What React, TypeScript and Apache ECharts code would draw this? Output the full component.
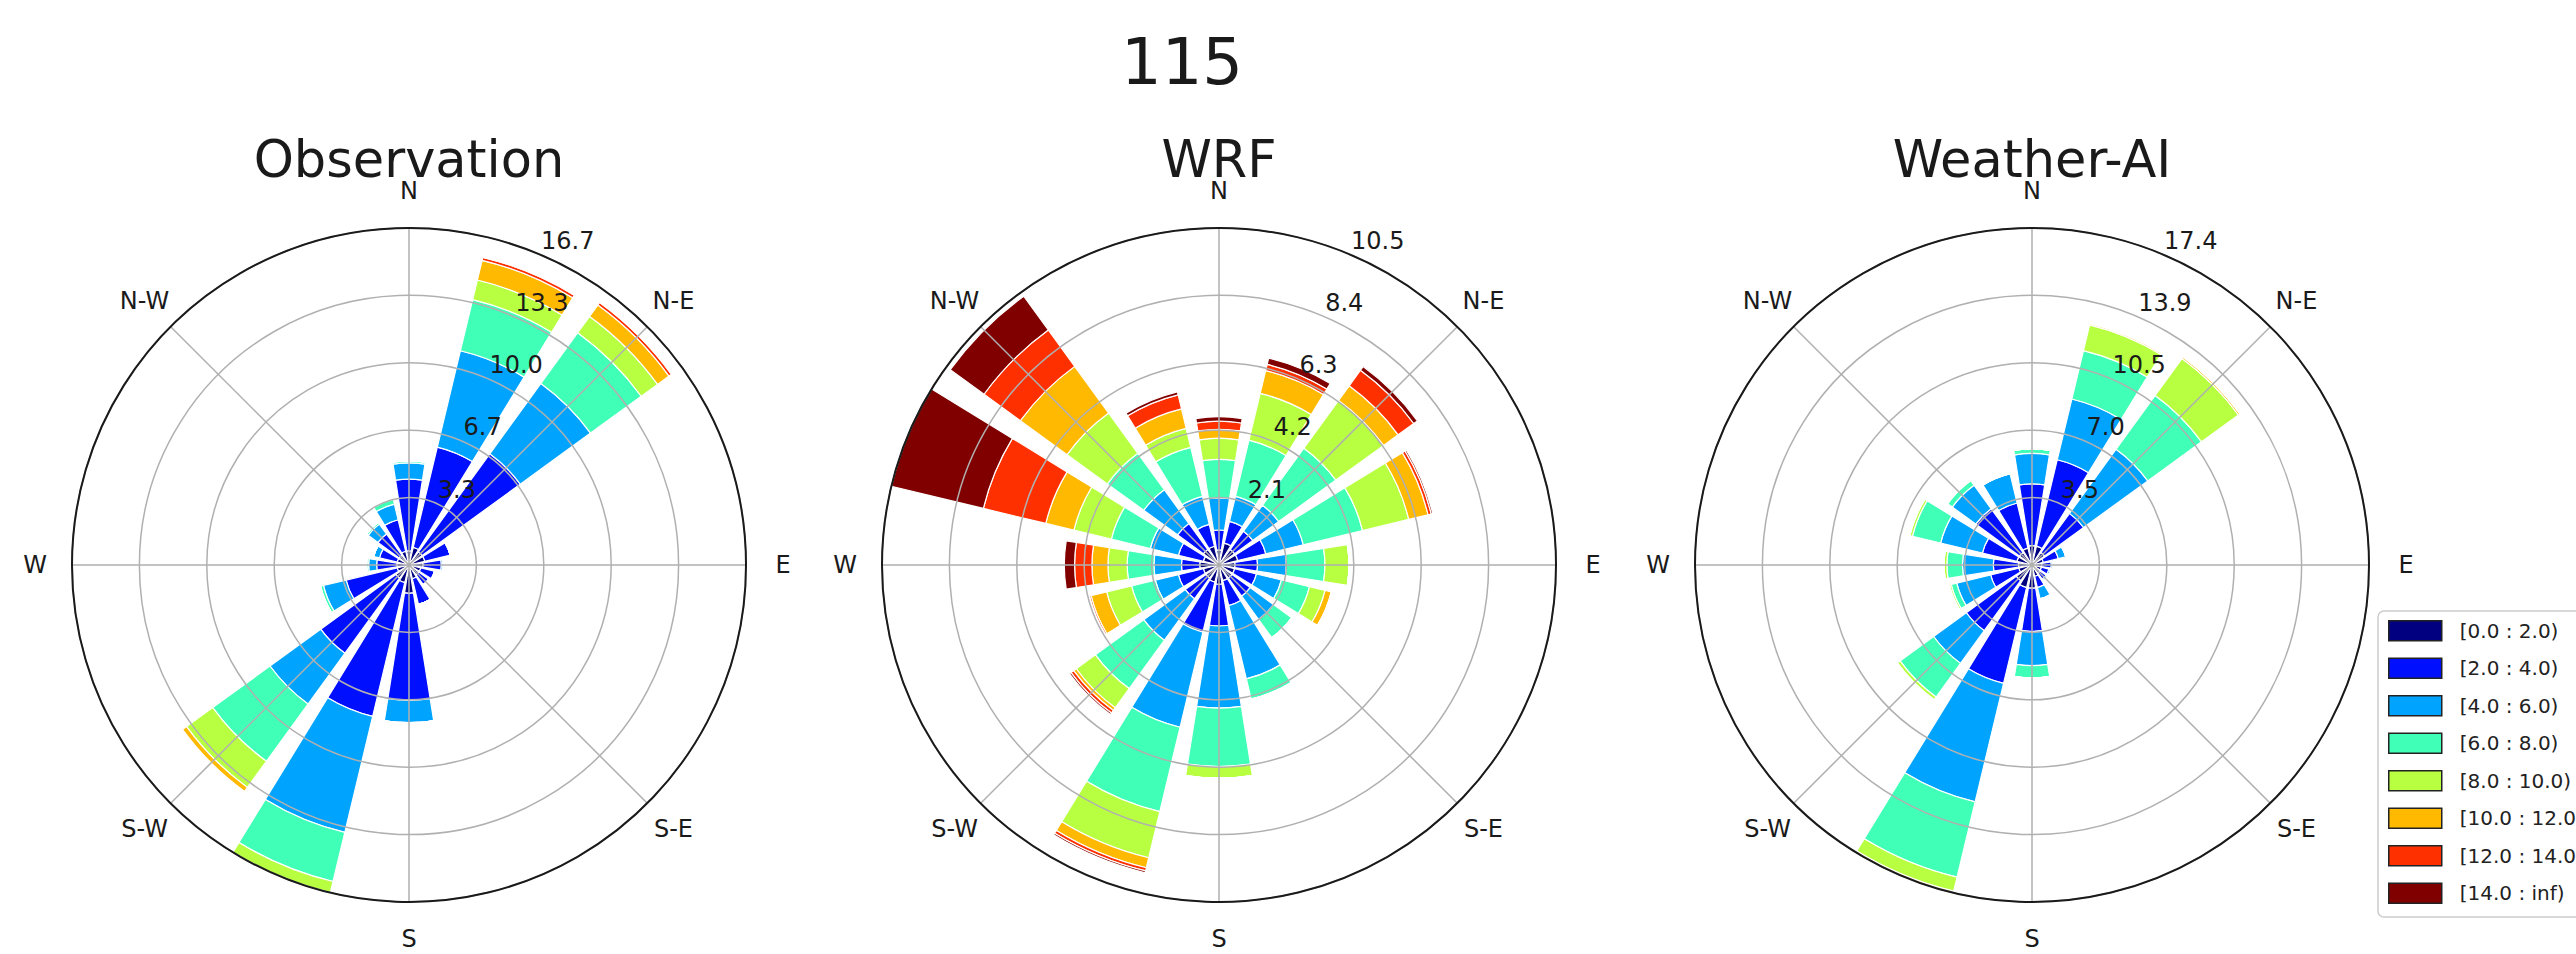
import React, { useEffect, useRef } from 'react';
import * as echarts from 'echarts';

const DIRECTIONS = ['N', 'NNE', 'NE', 'ENE', 'E', 'ESE', 'SE', 'SSE', 'S', 'SSW', 'SW', 'WSW', 'W', 'WNW', 'NW', 'NNW'];
const SPEED_BINS = ['[0.0 : 2.0)', '[2.0 : 4.0)', '[4.0 : 6.0)', '[6.0 : 8.0)', '[8.0 : 10.0)', '[10.0 : 12.0)', '[12.0 : 14.0)', '[14.0 : inf)'];
const BIN_COLORS = ['#000080', '#0010ff', '#00a4ff', '#40ffb7', '#b7ff40', '#ffb900', '#ff3000', '#800000'];
const COMPASS_LABELS = ['N', 'N-E', 'E', 'S-E', 'S', 'S-W', 'W', 'N-W'];
const SUPTITLE = '115';
const PANEL_TITLES = ['Observation', 'WRF', 'Weather-AI'];
const RMAX = [16.67, 10.5, 17.43];
const OBS_TICKS = ['3.3', '6.7', '10.0', '13.3', '16.7'];
const WRF_TICKS = ['2.1', '4.2', '6.3', '8.4', '10.5'];
const AI_TICKS = ['3.5', '7.0', '10.5', '13.9', '17.4'];

// rows = speed bins, columns = DIRECTIONS (frequency, %)
const OBS_FREQ = [
  [0.7, 0.9, 0.8, 0.8, 0.7, 0.6, 0.6, 0.7, 1.4, 0.9, 0.8, 0.6, 0.6, 0.6, 0.6, 0.7],
  [3.55, 5.1, 6.0, 1.3, 0.9, 0.7, 0.6, 1.3, 5.3, 6.8, 4.6, 2.6, 1.0, 0.9, 1.3, 1.6],
  [0.8, 4.9, 4.3, 0, 0.1, 0, 0, 0, 1.1, 5.9, 3.1, 1.15, 0.4, 0.3, 0.6, 0.8],
  [0.1, 2.6, 3.1, 0, 0, 0, 0, 0, 0, 2.5, 3.5, 0.15, 0.1, 0, 0.1, 0.25],
  [0, 1.0, 1.0, 0, 0, 0, 0, 0, 0, 0.57, 1.6, 0, 0, 0, 0, 0],
  [0, 1.0, 0.7, 0, 0, 0, 0, 0, 0, 0, 0.25, 0, 0, 0, 0, 0],
  [0, 0.15, 0.15, 0, 0, 0, 0, 0, 0, 0, 0.05, 0, 0, 0, 0, 0],
  [0, 0.05, 0.05, 0, 0, 0, 0, 0, 0, 0, 0, 0, 0, 0, 0, 0],
];
const WRF_FREQ = [
  [0.47, 0.7, 0.6, 0.6, 0.5, 0.5, 0.5, 0.5, 0.6, 0.55, 0.5, 0.5, 0.6, 0.5, 0.6, 0.6],
  [0.62, 0.7, 0.7, 0.9, 0.7, 0.7, 0.7, 0.8, 1.3, 1.6, 0.8, 0.8, 0.57, 0.8, 1.0, 0.7],
  [1.0, 0.8, 1.0, 1.2, 0.9, 0.8, 0.9, 2.35, 2.56, 3.05, 1.6, 0.74, 0.86, 0.9, 1.3, 0.9],
  [1.2, 1.8, 2.2, 1.9, 1.2, 0.9, 0.7, 0.65, 1.82, 2.7, 1.86, 0.76, 0.83, 1.25, 1.4, 1.57],
  [0.66, 1.5, 1.84, 1.48, 0.75, 0.5, 0, 0, 0.36, 1.48, 0.74, 0.8, 0.6, 1.2, 1.55, 0.61],
  [0.28, 0.73, 0.56, 0.62, 0, 0.2, 0, 0, 0, 0.32, 0.1, 0.5, 0.5, 0.9, 1.8, 0.62],
  [0.25, 0.2, 0.6, 0.1, 0, 0, 0, 0, 0, 0.1, 0.1, 0.05, 0.54, 2.0, 1.4, 0.45],
  [0.14, 0.2, 0.14, 0.05, 0, 0, 0, 0, 0, 0.06, 0.06, 0, 0.32, 2.95, 1.3, 0.1],
];
const AI_FREQ = [
  [1.0, 1.0, 0.8, 0.6, 0.5, 0.5, 0.5, 0.6, 1.2, 1.2, 1.0, 0.7, 0.7, 0.8, 0.8, 0.9],
  [3.2, 4.6, 2.5, 0.8, 0.5, 0.4, 0.4, 0.6, 2.24, 5.1, 3.2, 1.5, 1.3, 1.84, 2.8, 2.4],
  [1.57, 3.23, 4.1, 0.4, 0.1, 0.1, 0.1, 0.6, 1.76, 6.3, 2.09, 1.8, 1.6, 2.22, 1.5, 1.56],
  [0.23, 2.57, 3.44, 0, 0, 0, 0, 0, 0.65, 4.0, 2.15, 0.3, 0.8, 1.5, 0.3, 0],
  [0, 1.37, 2.36, 0, 0, 0, 0, 0, 0, 0.75, 0.18, 0.1, 0.15, 0.14, 0, 0],
  [0, 0.08, 0.1, 0, 0, 0, 0, 0, 0, 0.08, 0, 0, 0, 0, 0, 0],
  [0, 0, 0, 0, 0, 0, 0, 0, 0, 0, 0, 0, 0, 0, 0, 0],
  [0, 0, 0, 0, 0, 0, 0, 0, 0, 0, 0, 0, 0, 0, 0, 0],
];

const PANELS = [
  { freq: OBS_FREQ, ticks: OBS_TICKS },
  { freq: WRF_FREQ, ticks: WRF_TICKS },
  { freq: AI_FREQ, ticks: AI_TICKS },
];

const FONT = 'DejaVu Sans';
const CX = [409, 1219, 2032];
const CY = 565;
const R = 337;

function buildOption() {
  const polar: any[] = [];
  const angleAxis: any[] = [];
  const radiusAxis: any[] = [];
  const series: any[] = [];
  const graphic: any[] = [];

  const txt = (text: string, x: number, y: number, size: number, align = 'center', color = '#1a1a1a') => ({
    type: 'text',
    x,
    y,
    z: 100,
    silent: true,
    style: {
      text,
      fontSize: size,
      fontFamily: FONT,
      fill: color,
      align,
      verticalAlign: 'middle',
      textAlign: align,
      textVerticalAlign: 'middle',
    },
  });

  graphic.push(txt(SUPTITLE, 1182, 62, 64));

  PANELS.forEach((p, i) => {
    const cx = CX[i];
    polar.push({ center: [cx, CY], radius: R });
    polar.push({ center: [cx, CY], radius: R });
    const bi = 2 * i;
    const gi = 2 * i + 1;
    angleAxis.push({
      polarIndex: bi,
      type: 'category',
      data: DIRECTIONS,
      startAngle: 90 + 11.25,
      clockwise: true,
      axisLine: { show: false },
      axisTick: { show: false },
      axisLabel: { show: false },
      splitLine: { show: false },
    });
    radiusAxis.push({
      polarIndex: bi,
      type: 'value',
      min: 0,
      max: RMAX[i],
      axisLine: { show: false },
      axisTick: { show: false },
      axisLabel: { show: false },
      splitLine: { show: false },
    });
    angleAxis.push({
      polarIndex: gi,
      type: 'value',
      min: 0,
      max: 360,
      interval: 45,
      startAngle: 90,
      clockwise: true,
      z: 6,
      axisLine: { show: true, lineStyle: { color: '#1a1a1a', width: 2 } },
      axisTick: { show: false },
      axisLabel: { show: false },
      splitLine: { show: true, lineStyle: { color: '#b0b0b0', width: 1.5 } },
    });
    radiusAxis.push({
      polarIndex: gi,
      type: 'value',
      min: 0,
      max: RMAX[i],
      interval: RMAX[i] / 5,
      z: 5,
      axisLine: { show: false },
      axisTick: { show: false },
      axisLabel: { show: false },
      splitLine: { show: true, lineStyle: { color: '#b0b0b0', width: 1.5 } },
    });

    p.freq.forEach((row, b) => {
      series.push({
        type: 'bar',
        coordinateSystem: 'polar',
        polarIndex: bi,
        name: SPEED_BINS[b],
        stack: 'rose' + i,
        data: row,
        barCategoryGap: '20%',
        silent: true,
        z: 2,
        itemStyle: { color: BIN_COLORS[b], borderColor: '#ffffff', borderWidth: 1.2 },
        emphasis: { disabled: true },
      });
    });

    graphic.push(txt(PANEL_TITLES[i], cx, 159, 51));
    COMPASS_LABELS.forEach((lab, k) => {
      const a = (k * 45 * Math.PI) / 180;
      graphic.push(txt(lab, cx + 374 * Math.sin(a), CY - 374 * Math.cos(a), 24));
    });
    const la = (22.5 * Math.PI) / 180;
    p.ticks.forEach((lab, j) => {
      const r = (R * (j + 1)) / 5;
      graphic.push(txt(lab, cx + r * Math.sin(la) + 3, CY - r * Math.cos(la) - 13, 24, 'left'));
    });
  });

  return {
    animation: false,
    backgroundColor: '#ffffff',
    polar,
    angleAxis,
    radiusAxis,
    series,
    graphic,
    legend: {
      data: SPEED_BINS,
      orient: 'vertical',
      left: 2378,
      top: 611,
      padding: [9, 10, 13, 10],
      itemWidth: 53,
      itemHeight: 20,
      itemGap: 16,
      icon: 'rect',
      selectedMode: false,
      borderColor: '#cccccc',
      borderWidth: 1.5,
      borderRadius: 6,
      backgroundColor: '#ffffff',
      itemStyle: { borderColor: '#222222', borderWidth: 1.5 },
      textStyle: { fontFamily: FONT, fontSize: 20, color: '#222222', lineHeight: 20, padding: [0, 0, 0, 13] },
    },
  };
}

export default function App() {
  const ref = useRef<HTMLDivElement>(null);
  useEffect(() => {
    document.body.style.margin = '0';
    if (!ref.current) return;
    const chart = echarts.init(ref.current, undefined, { renderer: 'svg' });
    chart.setOption(buildOption() as any);
    return () => chart.dispose();
  }, []);
  return <div ref={ref} style={{ width: 2576, height: 954 }} />;
}
